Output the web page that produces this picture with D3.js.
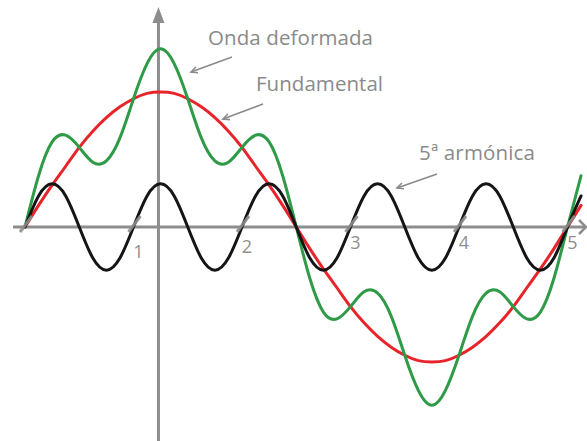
<!DOCTYPE html>
<html>
<head>
<meta charset="utf-8">
<script src="https://cdn.jsdelivr.net/npm/d3@7"></script>
<style>
  html, body { margin: 0; padding: 0; background: #fff; }
  svg { display: block; }
  text { font-family: "Open Sans", "Noto Sans", sans-serif; }
</style>
</head>
<body>
<svg id="chart" width="587" height="441"></svg>
<script>
// ---- data ----
const tValues = [0, 0.125, 0.25, 0.375, 0.5, 0.625, 0.75, 0.875, 1, 1.125, 1.25, 1.375, 1.5, 1.625, 1.75, 1.875,
  2, 2.125, 2.25, 2.375, 2.5, 2.625, 2.75, 2.875, 3, 3.125, 3.25, 3.375, 3.5, 3.625, 3.75, 3.875,
  4, 4.125, 4.25, 4.375, 4.5, 4.625, 4.75, 4.875, 5, 5.125];
const fundamental = [0, 0.16, 0.31, 0.45, 0.59, 0.71, 0.81, 0.89, 0.95, 0.99, 1.00, 0.99, 0.95, 0.89, 0.81, 0.71,
  0.59, 0.45, 0.31, 0.16, 0, -0.16, -0.31, -0.45, -0.59, -0.71, -0.81, -0.89, -0.95, -0.99, -1.00, -0.99,
  -0.95, -0.89, -0.81, -0.71, -0.59, -0.45, -0.31, -0.16, 0, 0.16];
const harmonic5 = [0, 0.23, 0.32, 0.23, 0, -0.23, -0.32, -0.23, 0, 0.23, 0.32, 0.23, 0, -0.23, -0.32, -0.23,
  0, 0.23, 0.32, 0.23, 0, -0.23, -0.32, -0.23, 0, 0.23, 0.32, 0.23, 0, -0.23, -0.32, -0.23,
  0, 0.23, 0.32, 0.23, 0, -0.23, -0.32, -0.23, 0, 0.23];
const deformed = [0, 0.38, 0.63, 0.68, 0.59, 0.48, 0.49, 0.66, 0.95, 1.21, 1.32, 1.21, 0.95, 0.66, 0.49, 0.48,
  0.59, 0.68, 0.63, 0.38, 0, -0.38, -0.63, -0.68, -0.59, -0.48, -0.49, -0.66, -0.95, -1.21, -1.32, -1.21,
  -0.95, -0.66, -0.49, -0.48, -0.59, -0.68, -0.63, -0.38, 0, 0.38];
const tickValues = [0, 1, 2, 3, 4, 5];
const tickLabels = ["", "1", "2", "3", "4", "5"];
const seriesNames = ["Onda deformada", "Fundamental", "5ª armónica"];

// ---- layout ----
const W = 587, H = 441;
const svg = d3.select("#chart");
const x = d3.scaleLinear().domain([0, 5]).range([25, 567.5]);
const y = d3.scaleLinear().domain([-1, 1]).range([227 + 135, 227 - 135]);
const axisGray = "#8d8d8d";
const y0 = y(0);
const vAxisX = x(1.23);

// axes
svg.append("line").attr("x1", 13).attr("x2", 586).attr("y1", y0).attr("y2", y0)
  .attr("stroke", axisGray).attr("stroke-width", 3);
svg.append("polyline")
  .attr("points", `${579},${y0 - 7} ${586},${y0} ${579},${y0 + 7}`)
  .attr("fill", "none").attr("stroke", axisGray).attr("stroke-width", 2.5);
svg.append("line").attr("x1", vAxisX).attr("x2", vAxisX).attr("y1", 20).attr("y2", H)
  .attr("stroke", axisGray).attr("stroke-width", 3);
svg.append("path")
  .attr("d", `M${vAxisX},7 L${vAxisX + 6},23 L${vAxisX - 6},23 Z`)
  .attr("fill", axisGray);

// curves
const line = (vals) => d3.line()
  .x((d, i) => x(tValues[i]))
  .y(d => y(d))
  .curve(d3.curveNatural)(vals);

const curves = [
  { vals: fundamental, color: "#e8242b" },
  { vals: deformed, color: "#2f9a47" },
  { vals: harmonic5, color: "#151515" }
];
curves.forEach(c => {
  svg.append("path").attr("d", line(c.vals))
    .attr("fill", "none").attr("stroke", c.color)
    .attr("stroke-width", 3).attr("stroke-linejoin", "round").attr("stroke-linecap", "round");
});

// slanted ticks
svg.selectAll(".tick").data(tickValues).enter().append("line")
  .attr("x1", d => x(d) - 5).attr("y1", y0 + 5)
  .attr("x2", d => x(d) + 7).attr("y2", y0 - 11)
  .attr("stroke", axisGray).attr("stroke-width", 3).attr("opacity", 0.9);

// tick labels
const labelDy = [0, 31, 26, 22, 22, 22];
svg.selectAll(".tlabel").data(tickValues).enter().append("text")
  .attr("x", d => x(d) + 5).attr("y", (d, i) => y0 + labelDy[i])
  .attr("text-anchor", "middle").attr("font-size", 18).attr("fill", "#8f8f8f")
  .text((d, i) => tickLabels[i]);

// annotations
const notes = [
  { text: seriesNames[0], x: 208, y: 45, w: 165, ax1: 232, ay1: 57, ax2: 191, ay2: 72 },
  { text: seriesNames[1], x: 256, y: 91, w: 127, ax1: 263, ay1: 104, ax2: 223, ay2: 119 },
  { text: seriesNames[2], x: 419, y: 160, w: 116, ax1: 437, ay1: 174, ax2: 397, ay2: 188 }
];
notes.forEach(n => {
  const t = svg.append("text").attr("x", n.x).attr("y", n.y)
    .attr("font-size", 20.5).attr("fill", "#8a8a8a").text(n.text);
  const len = t.node().getComputedTextLength();
  const chars = n.text.length;
  if (chars > 1) t.attr("letter-spacing", (n.w - len) / (chars - 1));
  svg.append("line").attr("x1", n.ax1).attr("y1", n.ay1).attr("x2", n.ax2).attr("y2", n.ay2)
    .attr("stroke", "#8a8a8a").attr("stroke-width", 1.6);
  const ang = Math.atan2(n.ay1 - n.ay2, n.ax1 - n.ax2);
  const hl = 7, spread = 0.45;
  const p1 = [n.ax2 + hl * Math.cos(ang + spread), n.ay2 + hl * Math.sin(ang + spread)];
  const p2 = [n.ax2 + hl * Math.cos(ang - spread), n.ay2 + hl * Math.sin(ang - spread)];
  svg.append("path").attr("d", `M${p1[0]},${p1[1]} L${n.ax2},${n.ay2} L${p2[0]},${p2[1]}`)
    .attr("fill", "none").attr("stroke", "#8a8a8a").attr("stroke-width", 1.6);
});
</script>
</body>
</html>
